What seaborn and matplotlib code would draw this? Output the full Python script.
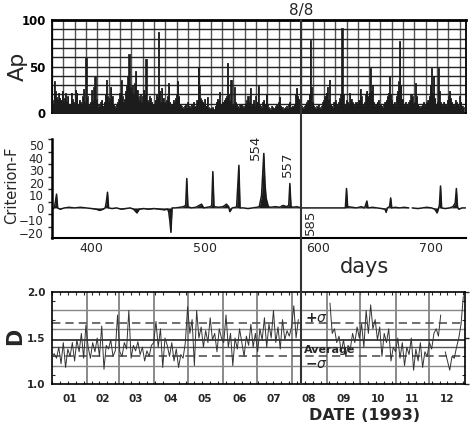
import numpy as np
import pandas as pd
import matplotlib
matplotlib.use("Agg")
from matplotlib import pyplot as plt
from matplotlib.lines import Line2D
from matplotlib.ticker import FixedLocator, MultipleLocator, NullFormatter
import matplotlib.transforms as mtransforms
import seaborn as sns

# Ap index, one value per day from day 365 (1 Jan 1993)
ap_start = 365
ap_values = [
    14, 10, 34, 24, 17, 15, 22, 16, 14, 24,
    12, 16, 21, 13, 18, 10, 9, 22, 15, 12,
    8, 25, 22, 10, 14, 12, 9, 18, 26, 12,
    59, 18, 10, 8, 12, 25, 14, 28, 39, 15,
    10, 7, 9, 12, 14, 8, 12, 20, 36, 18,
    12, 16, 28, 18, 10, 8, 6, 9, 12, 15,
    22, 35, 18, 12, 15, 24, 30, 40, 63, 28,
    22, 30, 20, 32, 45, 25, 18, 14, 20, 12,
    18, 25, 20, 58, 14, 12, 18, 16, 12, 10,
    9, 14, 20, 18, 87, 24, 12, 27, 16, 12,
    10, 14, 18, 32, 12, 8, 10, 14, 12, 16,
    20, 34, 18, 10, 8, 6, 5, 8, 10, 6,
    12, 8, 6, 10, 8, 12, 7, 8, 14, 49,
    30, 16, 14, 12, 10, 15, 8, 17, 6, 5,
    4, 5, 6, 4, 8, 12, 15, 14, 23, 10,
    8, 12, 14, 16, 18, 54, 20, 14, 36, 10,
    8, 28, 12, 10, 7, 6, 9, 10, 8, 6,
    7, 10, 14, 18, 12, 27, 8, 10, 14, 8,
    18, 12, 29, 10, 8, 6, 12, 14, 10, 20,
    10, 6, 5, 4, 8, 6, 5, 7, 10, 8,
    12, 17, 8, 6, 4, 5, 6, 8, 5, 10,
    12, 6, 8, 7, 10, 20, 27, 18, 15, 10,
    8, 6, 5, 8, 10, 12, 14, 20, 78, 28,
    12, 8, 6, 5, 7, 10, 6, 5, 8, 12,
    14, 18, 22, 28, 15, 36, 10, 8, 6, 12,
    14, 10, 8, 12, 16, 20, 91, 20, 10, 8,
    14, 12, 10, 22, 15, 12, 10, 8, 12, 10,
    12, 14, 26, 18, 10, 8, 12, 20, 24, 18,
    22, 48, 24, 30, 12, 8, 10, 12, 14, 8,
    10, 8, 6, 10, 12, 14, 18, 22, 40, 20,
    14, 10, 12, 8, 18, 24, 34, 77, 30, 15,
    10, 8, 12, 10, 8, 12, 14, 20, 18, 10,
    12, 32, 18, 10, 8, 6, 8, 10, 12, 8,
    10, 12, 14, 18, 30, 48, 22, 40, 16, 10,
    12, 48, 24, 12, 10, 8, 12, 10, 8, 14,
    18, 24, 16, 12, 10, 8, 14, 12, 10, 8,
    18, 12, 8, 6, 4,
]

# Criterion-F (day, value); nan = break in the curve
cf_days = [365, 367, 368, 369, 370, 372, 376, 380, 385, 390, 395, 400, 404, 407, 410,
           412, 413, 414, 415, 418, 422, 426, 430, 434, 437, 439, 440, 442, 446, 450,
           455, 460, 464, 467, 468, 469, 470, 471, 474, 478, 481, 483, 484, 485, 488,
           492, 495, 497, 499, 502, 505, 506, 507, 508, 512, 516, 519, 521, 522, 524,
           527, 528, 530, 531, 534, 538, 542, 546, 548, 550, 552, 553, 554, 556, 558, 562,
           566, 569, 572, 574, 575, 576, 578, 581, 585, 624, 625, 626, 630, 634, 638,
           641, 643, 644, 648, 652, 656, 659, 660, 661, 663, 664, 665, 668, 672, 676,
           680, 681, 683, 688, 692, 696, 700, 703, 705, 706, 707, 708, 709, 712, 716,
           719, 721, 722, 723, 724, 727, 730]
cf_values = [-1, 0, 5, 11, 0, -1, 0, 0.5, 0, 0.5, 0, -0.5, -1, -2, -1,
             0, 5, 12.5, 0, -0.5, 0, -1, -0.5, 0, -1, -3, -4, -1, -0.5, -1,
             -0.5, -1, -1.5, -1, -3, -10, -19.5, 0, 0, 0.5, 1, 2, 23.5, 1, 0,
             0.5, 2, 3, 0, 0.5, 1, 2, 29, 1, 0.5, 1, 3, 1, -3, 0,
             0.5, 1, 34, 0, 0, -0.5, 0, 0.5, 1, 10, 43.5, 20, 8, 1, 0.5, 1,
             0.5, 2, 1, 2, 19.5, 1, 0.5, 1, 0, 0, 15.5, 1, 0.5, 0, 1,
             0, 5.5, 0, 0.5, 0, -0.5, -1, -3.5, 0, 1, 8, 0, 0.5, 0, 0.5,
             0, np.nan, 0, -0.5, 0, 0.5, 0, -1, -4, -1, 2, 17.5, 0, -0.5, 0,
             1, 4, 15.5, 1, -1, 0, 0]

# D, every second day of 1993 (day of year 1, 3, ..., 365)
d_doy = list(range(1, 366, 2))
d_values = [
    # Jan
    1.30, 1.33, 1.28, 1.40, 1.22, 1.45, 1.18, 1.38, 1.30, 1.45, 1.25, 1.48, 1.35, 1.55, 1.28, 1.64,
    # Feb
    1.40, 1.28, 1.45, 1.35, 1.50, 1.30, 1.63, 1.16, 1.42, 1.38, 1.48, 1.30, 1.36, 1.75,
    # Mar
    1.35, 1.30, 1.45, 1.38, 1.80, 1.28, 1.42, 1.36, 1.46, 1.32, 1.40, 1.25, 1.36, 1.30, 1.42,
    # Apr
    1.45, 1.68, 1.40, 1.60, 1.18, 1.50, 1.42, 1.30, 1.45, 1.25, 1.38, 1.18, 1.32, 1.28, 1.45,
    # May
    1.84, 1.55, 1.70, 1.20, 1.80, 1.50, 1.62, 1.40, 1.58, 1.45, 1.72, 1.48, 1.55, 1.35, 1.60, 1.50,
    # Jun
    1.45, 1.75, 1.40, 1.55, 1.20, 1.50, 1.38, 1.60, 1.45, 1.30, 1.52, 1.42, 1.65, 1.40, 1.55,
    # Jul
    1.35, 1.60, 1.48, 1.72, 1.40, 1.65, 1.50, 1.80, 1.45, 1.62, 1.38, 1.70, 1.48, 1.58, 1.52,
    # Aug
    1.62, 1.85, 1.50, 1.70, np.nan, np.nan, np.nan, np.nan, np.nan, np.nan, np.nan, np.nan,
    np.nan, np.nan, np.nan, np.nan,
    # Sep
    np.nan, 1.88, 1.55, 1.60, 1.45, 1.52, 1.35, 1.48, 1.30, 1.42, 1.38, 1.55, 1.45, 1.62, 1.50,
    # Oct
    1.65, 1.40, 1.80, 1.55, 1.86, 1.60, 1.70, 1.48, 1.62, 1.30, 1.55, 1.45, 1.60, 1.25, 1.40,
    # Nov
    1.35, 1.50, 1.28, 1.45, 1.20, 1.40, 1.32, 1.50, 1.15, 1.38, 1.25, 1.45, 1.18, 1.35, 1.30,
    # Dec
    1.45, 1.38, 1.55, 1.60, 1.52, 1.75, np.nan, 1.35, 1.25, 1.15, 1.30, 1.28, 1.40, 1.50, 1.65, 1.95,
]

month_labels = ["01", "02", "03", "04", "05", "06", "07", "08", "09", "10", "11", "12"]
month_lengths = [31, 28, 31, 30, 31, 30, 31, 31, 30, 31, 30, 31]
d_average = 1.475
d_plus_sigma = 1.66
d_minus_sigma = 1.30
event_day = 585

# tables for seaborn; a new "seg" number after each nan keeps the gaps open
ap_df = pd.DataFrame({"day": np.arange(ap_start, ap_start + len(ap_values)), "Ap": ap_values})

cf_df = pd.DataFrame({"day": cf_days, "F": cf_values})
cf_df["seg"] = cf_df["F"].isna().cumsum()
cf_df = cf_df.dropna()

d_df = pd.DataFrame({"day": np.array(d_doy) + ap_start - 1, "D": d_values})
d_df["seg"] = d_df["D"].isna().cumsum()
d_df = d_df.dropna()

sns.set_theme(style="white")
plt.rcParams["font.family"] = ["DejaVu Sans"]
plt.rcParams["axes.edgecolor"] = "black"

W, H = 473, 426
fig = plt.figure(figsize=(W / 100, H / 100), dpi=100)

def box(x0, y0, x1, y1):
    return [x0 / W, 1 - y1 / H, (x1 - x0) / W, (y1 - y0) / H]

xlim = (365, 730.5)

# ---------- Ap ----------
ax1 = fig.add_axes(box(52, 20, 466, 113))
ax1.fill_between(ap_df["day"], ap_df["Ap"], step="mid", color="#1c1c1c", lw=0, zorder=3)
sns.lineplot(data=ap_df, x="day", y="Ap", ax=ax1, color="#1c1c1c", lw=0.6,
             drawstyle="steps-mid", estimator=None, zorder=3)
for d in np.arange(365, 731, 10):
    ax1.axvline(d, color="#555555", lw=1.0, zorder=1)
for v in range(10, 100, 10):
    ax1.axhline(v, color="#222222", lw=1.0, zorder=1)
ax1.set_xlim(xlim)
ax1.set_ylim(0, 100)
ax1.set_yticks([0, 50, 100])
ax1.set_yticklabels(["0", "50", "100"], fontweight="bold", fontsize=8.5)
ax1.xaxis.set_major_locator(FixedLocator(np.arange(365, 731, 50)))
ax1.xaxis.set_major_formatter(NullFormatter())
ax1.tick_params(axis="both", direction="out", length=3, width=1.2, colors="black", pad=1.5)
ax1.set_xlabel("")
ax1.set_ylabel("Ap", fontsize=16)
ax1.yaxis.set_label_coords(-0.058, 0.5)
for s in ax1.spines.values():
    s.set_linewidth(1.3)
ax1.spines["top"].set_linewidth(2)

# ---------- Criterion-F ----------
ax2 = fig.add_axes(box(52, 139, 466, 238))
for _, part in cf_df.groupby("seg"):
    ax2.fill_between(part["day"], part["F"], 0, color="#1a1a1a", lw=0)
sns.lineplot(data=cf_df, x="day", y="F", units="seg", estimator=None, ax=ax2,
             color="#1a1a1a", lw=1.1)
ax2.set_xlim(xlim)
ax2.set_ylim(-24, 55)
ax2.spines["top"].set_visible(False)
ax2.spines["right"].set_visible(False)
ax2.spines["left"].set_linewidth(1.8)
ax2.spines["bottom"].set_linewidth(1.5)
ax2.yaxis.set_major_locator(FixedLocator(np.arange(-20, 51, 10)))
ax2.yaxis.set_minor_locator(FixedLocator(np.arange(-25, 56, 5)))
ax2.set_xticks([400, 500, 600, 700])
ax2.tick_params(axis="y", which="major", direction="out", length=5, width=1.2, pad=1, labelsize=8.5)
ax2.tick_params(axis="y", which="minor", direction="out", length=3, width=1.0, left=True)
ax2.tick_params(axis="x", direction="in", length=3, width=1.2, pad=3, labelsize=9)
ax2.set_xlabel("")
ax2.set_ylabel("Criterion-F", fontsize=10.5)
ax2.yaxis.set_label_coords(-0.08, 0.535)
ax2.text(545, 38, "554", rotation=90, ha="center", va="bottom", fontsize=9.5)
ax2.text(573, 24.5, "557", rotation=90, ha="center", va="bottom", fontsize=9.5)
ax2.text(593.5, -1.5, "585", rotation=90, ha="center", va="top", fontsize=9.5)
ax2.text(641, -0.29, "days", transform=mtransforms.blended_transform_factory(ax2.transData, ax2.transAxes),
         ha="center", va="center", fontsize=15)

# ---------- D ----------
ax3 = fig.add_axes(box(52, 292, 465, 384))
starts = ap_start + np.concatenate([[0], np.cumsum(month_lengths)])
for b in starts[1:-1]:
    ax3.axvline(b, color="#777777", lw=1.2, zorder=1)
for v in [1.2, 1.4, 1.6, 1.8]:
    ax3.axhline(v, color="#555555" if v == 1.4 else "#888888", lw=1.0, zorder=1)
ax3.axhline(d_average, color="#222222", lw=1.2, zorder=1)
ax3.axhline(d_plus_sigma, color="#555555", lw=1.2, ls=(0, (5, 3)), zorder=1)
ax3.axhline(d_minus_sigma, color="#555555", lw=1.2, ls=(0, (5, 3)), zorder=1)
sns.lineplot(data=d_df, x="day", y="D", units="seg", estimator=None, ax=ax3,
             color="#333333", lw=0.7, zorder=3)
ax3.set_xlim(xlim)
ax3.set_ylim(1.0, 2.0)
ax3.set_yticks([1.0, 1.5, 2.0])
ax3.set_yticklabels(["1.0", "1.5", "2.0"], fontweight="bold", fontsize=7.5)
ax3.yaxis.set_minor_locator(MultipleLocator(0.1))
mid = (starts[:-1] + starts[1:]) / 2
ax3.set_xticks(mid)
ax3.set_xticklabels(month_labels, fontweight="bold", fontsize=7.5)
ax3.xaxis.set_minor_locator(FixedLocator(np.arange(365, 731, 7)))
ax3.tick_params(axis="x", which="major", length=0, pad=7)
ax3.tick_params(axis="x", which="minor", direction="in", length=2, width=0.8,
                bottom=True, top=True)
ax3.tick_params(axis="y", which="major", direction="out", length=3, width=1.0, pad=1.5, right=True)
ax3.tick_params(axis="y", which="minor", direction="in", length=2, width=0.8, left=True, right=True)
ax3.set_xlabel("")
ax3.set_ylabel("D", fontsize=15, fontweight="bold")
ax3.yaxis.set_label_coords(-0.065, 0.52)
for s in ax3.spines.values():
    s.set_linewidth(1.2)
ax3.text(589, d_plus_sigma + 0.06, "+$\\sigma$", ha="left", va="center", fontsize=10, fontweight="bold")
ax3.text(588, d_average - 0.105, "Average", ha="left", va="center", fontsize=8, fontweight="bold")
ax3.text(589, d_minus_sigma - 0.08, "\u2212$\\sigma$", ha="left", va="center", fontsize=10, fontweight="bold")

# 8/8 line through all panels
trans = mtransforms.blended_transform_factory(ax1.transData, fig.transFigure)
fig.add_artist(Line2D([event_day, event_day], [1 - 20 / H, 1 - 384 / H], transform=trans,
                      color="#333333", lw=1.5))
fig.text(event_day, 1 - 10 / H, "8/8", transform=trans, ha="center", va="center", fontsize=11)
fig.text(365 / W, 1 - 415 / H, "DATE (1993)", ha="center", va="center", fontsize=11.5,
         fontweight="bold")

fig.savefig("out.png", dpi=100)
